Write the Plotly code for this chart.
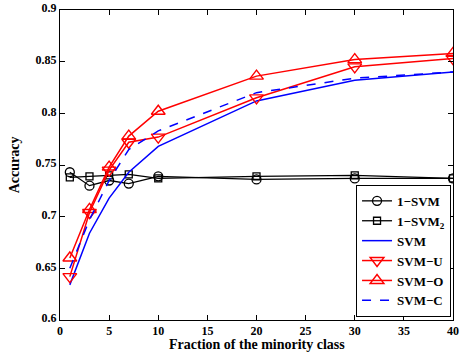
import plotly.graph_objects as go

x = [1, 3, 5, 7, 10, 20, 30, 40]
one_svm = [0.743, 0.730, 0.735, 0.732, 0.739, 0.736, 0.737, 0.737]
one_svm2 = [0.738, 0.739, 0.740, 0.741, 0.737, 0.739, 0.740, 0.737]
svm = [0.634, 0.684, 0.718, 0.743, 0.768, 0.812, 0.832, 0.840]
svm_u = [0.642, 0.704, 0.745, 0.772, 0.777, 0.815, 0.845, 0.853]
svm_o = [0.660, 0.707, 0.748, 0.778, 0.802, 0.836, 0.852, 0.858]
svm_c = [0.650, 0.697, 0.735, 0.765, 0.783, 0.820, 0.834, 0.840]

xticks = [0, 5, 10, 15, 20, 25, 30, 35, 40]
yticks = [0.6, 0.65, 0.7, 0.75, 0.8, 0.85, 0.9]

font = "Liberation Serif"
fig = go.Figure()
fig.add_trace(go.Scatter(x=x, y=one_svm, name="<b>1−SVM</b>", mode="lines+markers",
                         line=dict(color="black", width=1.3),
                         marker=dict(symbol="circle-open", size=9, color="black", line=dict(width=1.3))))
fig.add_trace(go.Scatter(x=x, y=one_svm2, name="<b>1−SVM<sub>2</sub></b>", mode="lines+markers",
                         line=dict(color="black", width=1.3),
                         marker=dict(symbol="square-open", size=7, color="black", line=dict(width=1.3))))
fig.add_trace(go.Scatter(x=x, y=svm, name="<b>SVM</b>", mode="lines",
                         line=dict(color="blue", width=1.5)))
fig.add_trace(go.Scatter(x=x, y=svm_u, name="<b>SVM−U</b>", mode="lines+markers",
                         line=dict(color="red", width=1.5),
                         marker=dict(symbol="triangle-down-open", size=12, color="red", line=dict(width=1.4))))
fig.add_trace(go.Scatter(x=x, y=svm_o, name="<b>SVM−O</b>", mode="lines+markers",
                         line=dict(color="red", width=1.5),
                         marker=dict(symbol="triangle-up-open", size=12, color="red", line=dict(width=1.4))))
fig.add_trace(go.Scatter(x=x, y=svm_c, name="<b>SVM−C</b>", mode="lines",
                         line=dict(color="blue", width=1.5, dash="dash")))

axis_common = dict(showline=True, linecolor="black", linewidth=1, mirror="ticks",
                   ticks="inside", ticklen=5, tickcolor="black", showgrid=False, zeroline=False,
                   automargin=False, ticklabeloverflow="allow",
                   tickfont=dict(family=font, size=12, color="black"))
fig.update_layout(
    width=468, height=354,
    margin=dict(l=60, r=15, t=10, b=34),
    paper_bgcolor="white", plot_bgcolor="white",
    font=dict(family=font, color="black", size=12),
    hovermode=False,
    xaxis=dict(range=[0, 40], tickvals=xticks, ticktext=[f"<b>{v}</b>" for v in xticks],
               **axis_common),
    yaxis=dict(range=[0.6, 0.9], tickvals=yticks, ticktext=[f"<b>{v:g}</b>" for v in yticks],
               ticklabelshift=-2,
               title=dict(text="<b>Accuracy</b>", standoff=12, font=dict(family=font, size=14)),
               **axis_common),
    legend=dict(x=0.995, y=0.01, xanchor="right", yanchor="bottom",
                bgcolor="white", bordercolor="black", borderwidth=1,
                font=dict(family=font, size=13), tracegroupgap=0, itemwidth=30),
    showlegend=True,
    annotations=[dict(text="<b>Fraction of the minority class</b>", xref="paper", yref="paper",
                      x=0.5, y=0, xanchor="center", yanchor="middle", yshift=-24,
                      showarrow=False, font=dict(family=font, size=14, color="black"))],
)
fig.write_html("out.html", config={"displayModeBar": False},
               post_script="document.body.style.margin='0';")
